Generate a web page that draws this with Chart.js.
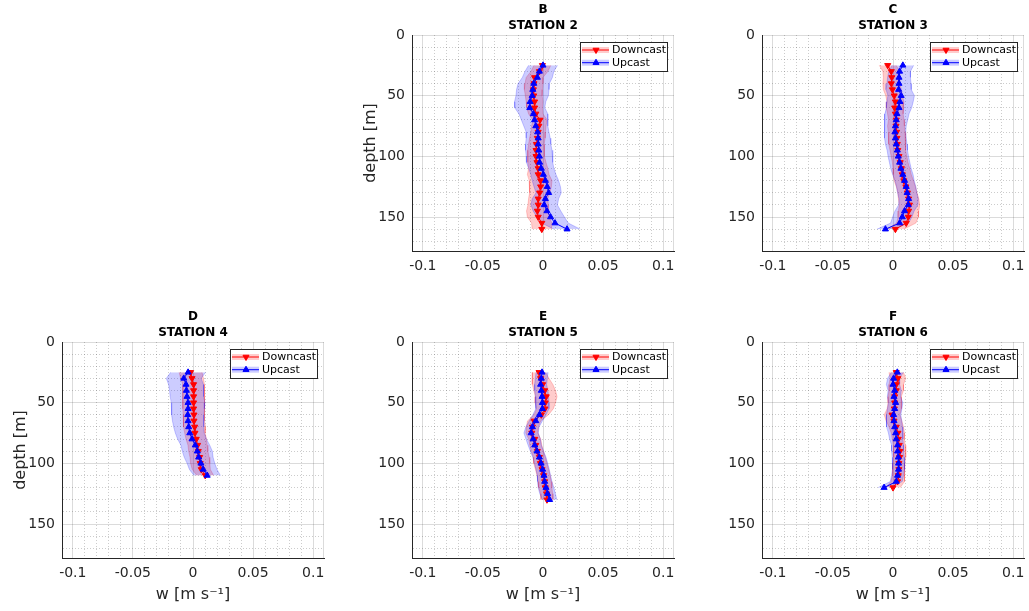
<!DOCTYPE html>
<html lang="en">

<head>
  <meta charset="UTF-8">
  <title>Vertical velocity profiles - stations 2 to 6</title>
  <style>
    body {
      margin: 0;
      background-color: #fff;
      width: 1029px;
      height: 611px;
      position: relative;
      overflow: hidden;
    }

    canvas {
      position: absolute;
    }
  </style>
  <script src="https://cdn.jsdelivr.net/npm/chart.js"></script>
</head>

<body>
  <canvas id="panelB" width="329" height="300" style="left:350px;top:0px"></canvas>
  <canvas id="panelC" width="329" height="300" style="left:700px;top:0px"></canvas>
  <canvas id="panelD" width="329" height="304" style="left:0px;top:307px"></canvas>
  <canvas id="panelE" width="329" height="304" style="left:350px;top:307px"></canvas>
  <canvas id="panelF" width="329" height="304" style="left:700px;top:307px"></canvas>

  <script>
    // depth [m] and mean w [m/s] per station, plus the half-width of the shaded band
    const depthB = [25, 30, 35, 40, 45, 50, 55, 60, 65, 70, 75, 80, 85, 90, 95, 100, 105, 110, 115, 120, 125, 130, 135, 140, 145, 150, 155, 160];
    const downB = [-0.0005, -0.003, -0.007, -0.0075, -0.008, -0.0077, -0.007, -0.007, -0.006, -0.0025, -0.0035, -0.004, -0.0047, -0.0055, -0.0058, -0.0058, -0.005, -0.004, -0.004, -0.002, -0.002, -0.0028, -0.004, -0.004, -0.0047, -0.004, -0.001, -0.001];
    const upB = [0, -0.003, -0.0047, -0.0077, -0.0085, -0.009, -0.0107, -0.011, -0.008, -0.007, -0.006, -0.0045, -0.004, -0.004, -0.0035, -0.003, -0.0028, -0.0014, 0.0003, 0.002, 0.0035, 0.0047, 0.002, 0.001, 0.0033, 0.0063, 0.01, 0.02];
    const sdDownB = [0.007, 0.007, 0.007, 0.0075, 0.0075, 0.007, 0.007, 0.0065, 0.006, 0.006, 0.006, 0.006, 0.0065, 0.0065, 0.007, 0.007, 0.0075, 0.008, 0.009, 0.0095, 0.009, 0.0085, 0.008, 0.0085, 0.009, 0.009, 0.0085, 0.008];
    const sdUpB = [0.012, 0.012, 0.0125, 0.013, 0.0135, 0.0135, 0.013, 0.0125, 0.012, 0.011, 0.01, 0.0095, 0.01, 0.0105, 0.011, 0.011, 0.011, 0.0105, 0.0105, 0.011, 0.011, 0.0105, 0.011, 0.011, 0.0115, 0.0115, 0.011, 0.011];

    const depthC = [25, 30, 35, 40, 45, 50, 55, 60, 65, 70, 75, 80, 85, 90, 95, 100, 105, 110, 115, 120, 125, 130, 135, 140, 145, 150, 155, 160];
    const downC = [-0.0044, -0.0014, -0.001, -0.0014, -0.0005, 0.001, 0.002, 0.0014, 0.002, 0.0027, 0.0025, 0.003, 0.0033, 0.0036, 0.004, 0.005, 0.006, 0.007, 0.0077, 0.009, 0.0107, 0.012, 0.013, 0.0137, 0.013, 0.0127, 0.011, 0.002];
    const upC = [0.0082, 0.0055, 0.005, 0.005, 0.0047, 0.0068, 0.0058, 0.005, 0.0033, 0.0027, 0.002, 0.0016, 0.002, 0.0027, 0.0036, 0.0044, 0.0055, 0.0066, 0.0082, 0.0096, 0.011, 0.0118, 0.013, 0.0127, 0.0096, 0.0077, 0.0055, -0.0063];
    const sdDownC = [0.007, 0.007, 0.007, 0.007, 0.0075, 0.007, 0.007, 0.007, 0.0065, 0.0065, 0.007, 0.007, 0.007, 0.007, 0.0065, 0.0065, 0.0065, 0.007, 0.0075, 0.008, 0.008, 0.008, 0.0085, 0.0085, 0.0085, 0.0085, 0.008, 0.007];
    const sdUpC = [0.009, 0.009, 0.0095, 0.01, 0.0105, 0.011, 0.011, 0.0105, 0.01, 0.0095, 0.009, 0.009, 0.009, 0.009, 0.0085, 0.0085, 0.0085, 0.0085, 0.0085, 0.008, 0.008, 0.008, 0.008, 0.008, 0.008, 0.008, 0.0075, 0.007];

    const depthD = [25, 30, 35, 40, 45, 50, 55, 60, 65, 70, 75, 80, 85, 90, 95, 100, 105, 110];
    const downD = [-0.002, -0.0008, 0.0005, 0.0005, 0.0005, 0.0005, 0.0005, 0.0008, 0.0008, 0.0014, 0.0016, 0.0027, 0.0038, 0.0044, 0.0055, 0.006, 0.0069, 0.0102];
    const upD = [-0.0041, -0.0077, -0.0058, -0.0055, -0.005, -0.0041, -0.0041, -0.0044, -0.0041, -0.0036, -0.0027, -0.0008, 0.0019, 0.0036, 0.0047, 0.0066, 0.0085, 0.0118];
    const sdDownD = [0.0095, 0.0095, 0.009, 0.009, 0.009, 0.009, 0.009, 0.009, 0.009, 0.009, 0.0085, 0.0085, 0.008, 0.008, 0.008, 0.008, 0.0075, 0.007];
    const sdUpD = [0.0145, 0.0145, 0.0145, 0.014, 0.014, 0.014, 0.0135, 0.0135, 0.013, 0.0125, 0.012, 0.012, 0.012, 0.0125, 0.012, 0.0115, 0.0115, 0.011];

    const depthE = [25, 30, 35, 40, 45, 50, 55, 60, 65, 70, 75, 80, 85, 90, 95, 100, 105, 110, 115, 120, 125, 130];
    const downE = [-0.0033, -0.002, -0.0003, 0.0014, 0.0027, 0.0019, 0.0016, -0.0014, -0.0074, -0.0088, -0.0093, -0.0069, -0.006, -0.0047, -0.003, -0.0022, -0.0008, 0.0005, 0.0014, 0.0019, 0.003, 0.0033];
    const upE = [-0.0008, -0.0014, -0.002, -0.0014, -0.0008, -0.0005, -0.0005, -0.003, -0.006, -0.0088, -0.0099, -0.0082, -0.0069, -0.005, -0.003, -0.0016, -0.0003, 0.0008, 0.0014, 0.0025, 0.0038, 0.0055];
    const sdDownE = [0.0055, 0.007, 0.0085, 0.009, 0.009, 0.0085, 0.007, 0.006, 0.0055, 0.005, 0.005, 0.005, 0.005, 0.005, 0.005, 0.0055, 0.0055, 0.0055, 0.0055, 0.0055, 0.005, 0.005];
    const sdUpE = [0.005, 0.005, 0.005, 0.0055, 0.0055, 0.0055, 0.0055, 0.0055, 0.0055, 0.0055, 0.006, 0.006, 0.0055, 0.0055, 0.0055, 0.0055, 0.0055, 0.0055, 0.006, 0.0065, 0.0065, 0.006];

    const depthF = [25, 30, 35, 40, 45, 50, 55, 60, 65, 70, 75, 80, 85, 90, 95, 100, 105, 110, 115, 120];
    const downF = [0.0027, 0.0041, 0.0027, 0.0027, 0.0014, 0.0014, 0.0011, -0.0008, 0.0008, 0.0027, 0.0041, 0.0044, 0.0052, 0.0057, 0.0055, 0.0049, 0.0049, 0.0044, 0.0038, 0];
    const upF = [0.0036, 0.0005, 0, 0.0014, 0.0008, 0.0022, 0.0014, 0.0005, 0.0008, 0.0014, 0.0022, 0.0027, 0.0038, 0.0038, 0.0044, 0.0046, 0.0046, 0.0038, 0.0027, -0.0074];
    const sdDownF = [0.006, 0.0065, 0.006, 0.006, 0.0055, 0.0055, 0.006, 0.0065, 0.0065, 0.006, 0.0055, 0.005, 0.005, 0.005, 0.005, 0.005, 0.005, 0.005, 0.0055, 0.006];
    const sdUpF = [0.005, 0.005, 0.0055, 0.0055, 0.0055, 0.006, 0.006, 0.006, 0.0065, 0.0065, 0.006, 0.0055, 0.005, 0.005, 0.005, 0.005, 0.005, 0.005, 0.005, 0.005];

    const seriesLabels = ['Downcast', 'Upcast'];
    const xLimits = [-0.109, 0.109];
    const depthLimits = [0, 178];
    // grid positions; the ones that get a label are listed separately
    const xGrid = [-0.1, -0.09, -0.08, -0.07, -0.06, -0.05, -0.04, -0.03, -0.02, -0.01, 0, 0.01, 0.02, 0.03, 0.04, 0.05, 0.06, 0.07, 0.08, 0.09, 0.1];
    const xLabelled = [-0.1, -0.05, 0, 0.05, 0.1];
    const yGrid = [0, 10, 20, 30, 40, 50, 60, 70, 80, 90, 100, 110, 120, 130, 140, 150, 160, 170];
    const yLabelled = [0, 50, 100, 150];

    const red = '#ff0000';
    const blue = '#0000ff';
    const redBand = 'rgba(255, 0, 0, 0.2)';
    const blueBand = 'rgba(0, 0, 255, 0.2)';
    const redEdge = 'rgba(255, 0, 0, 0.3)';
    const blueEdge = 'rgba(0, 0, 255, 0.3)';
    const axisColor = '#262626';
    const majorGrid = 'rgba(0, 0, 0, 0.14)';
    const minorGrid = 'rgba(0, 0, 0, 0.2)';
    const font = 'DejaVu Sans';

    function profile(depth, w) {
      return depth.map((d, i) => ({ x: w[i], y: d }));
    }

    function bandEdge(depth, w, sd, sign) {
      return depth.map((d, i) => ({ x: w[i] + sign * sd[i], y: d }));
    }

    function near(list, v) {
      return list.some(t => Math.abs(t - v) < 1e-9);
    }

    // title (letter + station), right edge line and the boxed legend
    const panelDecor = {
      id: 'panelDecor',
      afterDraw(chart, args, opts) {
        const { ctx, chartArea: a } = chart;
        ctx.save();
        ctx.strokeStyle = majorGrid;
        ctx.lineWidth = 1;
        ctx.beginPath();
        ctx.moveTo(Math.round(a.right) - 0.5, a.top);
        ctx.lineTo(Math.round(a.right) - 0.5, a.bottom);
        ctx.stroke();

        ctx.fillStyle = '#000';
        ctx.font = 'bold 12px "' + font + '"';
        ctx.textAlign = 'center';
        ctx.textBaseline = 'middle';
        const cx = (a.left + a.right) / 2;
        ctx.fillText(opts.letter, cx, a.top - 25);
        ctx.fillText(opts.station, cx, a.top - 9);

        const bw = 87, bh = 29;
        const bx = Math.round(a.right - 7 - bw), by = Math.round(a.top + 7);
        ctx.fillStyle = '#fff';
        ctx.fillRect(bx, by, bw, bh);
        ctx.strokeStyle = axisColor;
        ctx.lineWidth = 1;
        ctx.strokeRect(bx + 0.5, by + 0.5, bw, bh);
        const rows = [
          { label: seriesLabels[0], color: red, band: redBand, rot: 180 },
          { label: seriesLabels[1], color: blue, band: blueBand, rot: 0 }
        ];
        rows.forEach((r, i) => {
          const y = by + 8 + i * 12.7;
          ctx.fillStyle = r.band;
          ctx.fillRect(bx + 2, y - 3, 27, 6);
          ctx.strokeStyle = r.color;
          ctx.lineWidth = 1;
          ctx.beginPath();
          ctx.moveTo(bx + 2, y);
          ctx.lineTo(bx + 29, y);
          ctx.stroke();
          ctx.fillStyle = r.color;
          Chart.helpers.drawPoint(ctx, { pointStyle: 'triangle', radius: 3.5, rotation: r.rot, borderWidth: 1 }, bx + 16, y);
          ctx.fillStyle = '#000';
          ctx.font = '11px "' + font + '"';
          ctx.textAlign = 'left';
          ctx.fillText(r.label, bx + 32, y + 0.5);
        });
        ctx.restore();
      }
    };

    function makePanel(id, letter, station, depth, down, up, sdDown, sdUp, showYTitle, showXTitle) {
      const xAxisHeight = showXTitle ? 53 : 49;
      new Chart(document.getElementById(id), {
        type: 'line',
        data: {
          datasets: [
            {
              label: seriesLabels[1], data: profile(depth, up), borderColor: blue, backgroundColor: blue,
              borderWidth: 1, pointStyle: 'triangle', pointRadius: 3.5, pointBorderWidth: 1, fill: false
            },
            {
              label: seriesLabels[0], data: profile(depth, down), borderColor: red, backgroundColor: red,
              borderWidth: 1, pointStyle: 'triangle', pointRotation: 180, pointRadius: 3.5, pointBorderWidth: 1, fill: false
            },
            { data: bandEdge(depth, up, sdUp, 1), borderColor: blueEdge, borderWidth: 0.7, pointRadius: 0, backgroundColor: blueBand, fill: 3 },
            { data: bandEdge(depth, up, sdUp, -1), borderColor: blueEdge, borderWidth: 0.7, pointRadius: 0, fill: false },
            { data: bandEdge(depth, down, sdDown, 1), borderColor: redEdge, borderWidth: 0.7, pointRadius: 0, backgroundColor: redBand, fill: 5 },
            { data: bandEdge(depth, down, sdDown, -1), borderColor: redEdge, borderWidth: 0.7, pointRadius: 0, fill: false }
          ]
        },
        options: {
          indexAxis: 'y',
          responsive: false,
          animation: false,
          devicePixelRatio: 1,
          events: [],
          layout: { padding: { top: 35, right: 3, left: 0, bottom: 0 } },
          plugins: {
            legend: { display: false },
            tooltip: { enabled: false },
            panelDecor: { letter: letter, station: station }
          },
          scales: {
            x: {
              type: 'linear',
              min: xLimits[0],
              max: xLimits[1],
              afterBuildTicks: s => { s.ticks = xGrid.map(v => ({ value: v })); },
              ticks: {
                autoSkip: false,
                maxRotation: 0,
                padding: 7,
                color: axisColor,
                font: { family: font, size: 14 },
                callback: v => near(xLabelled, v) ? String(v) : ''
              },
              grid: {
                drawTicks: false,
                color: c => (!c.tick || near(xLabelled, c.tick.value)) ? majorGrid : minorGrid,
                lineWidth: 1
              },
              border: {
                color: axisColor, width: 1,
                dash: c => (!c.tick || near(xLabelled, c.tick.value)) ? [] : [1, 2]
              },
              title: {
                display: showXTitle,
                text: 'w [m s⁻¹]',
                color: axisColor,
                font: { family: font, size: 16 },
                padding: { top: 4, bottom: 7 }
              },
              afterFit: s => {
                s.height = xAxisHeight;
                s.paddingLeft = 0;
                s.paddingRight = 0;
              }
            },
            y: {
              type: 'linear',
              reverse: true,
              min: depthLimits[0],
              max: depthLimits[1],
              afterBuildTicks: s => { s.ticks = yGrid.map(v => ({ value: v })); },
              ticks: {
                autoSkip: false,
                padding: 7,
                color: axisColor,
                font: { family: font, size: 14 },
                callback: v => near(yLabelled, v) ? String(v) : ''
              },
              grid: {
                drawTicks: false,
                color: c => (!c.tick || near(yLabelled, c.tick.value)) ? majorGrid : minorGrid,
                lineWidth: 1
              },
              border: {
                color: axisColor, width: 1,
                dash: c => (!c.tick || near(yLabelled, c.tick.value)) ? [] : [1, 2]
              },
              title: {
                display: showYTitle,
                text: 'depth [m]',
                color: axisColor,
                font: { family: font, size: 16 },
                padding: { top: 11, bottom: 0 }
              },
              afterFit: s => {
                s.width = 62;
                s.paddingTop = 0;
                s.paddingBottom = 0;
              }
            }
          }
        },
        plugins: [panelDecor]
      });
    }

    makePanel('panelB', 'B', 'STATION 2', depthB, downB, upB, sdDownB, sdUpB, true, false);
    makePanel('panelC', 'C', 'STATION 3', depthC, downC, upC, sdDownC, sdUpC, false, false);
    makePanel('panelD', 'D', 'STATION 4', depthD, downD, upD, sdDownD, sdUpD, true, true);
    makePanel('panelE', 'E', 'STATION 5', depthE, downE, upE, sdDownE, sdUpE, false, true);
    makePanel('panelF', 'F', 'STATION 6', depthF, downF, upF, sdDownF, sdUpF, false, true);
  </script>
</body>

</html>
